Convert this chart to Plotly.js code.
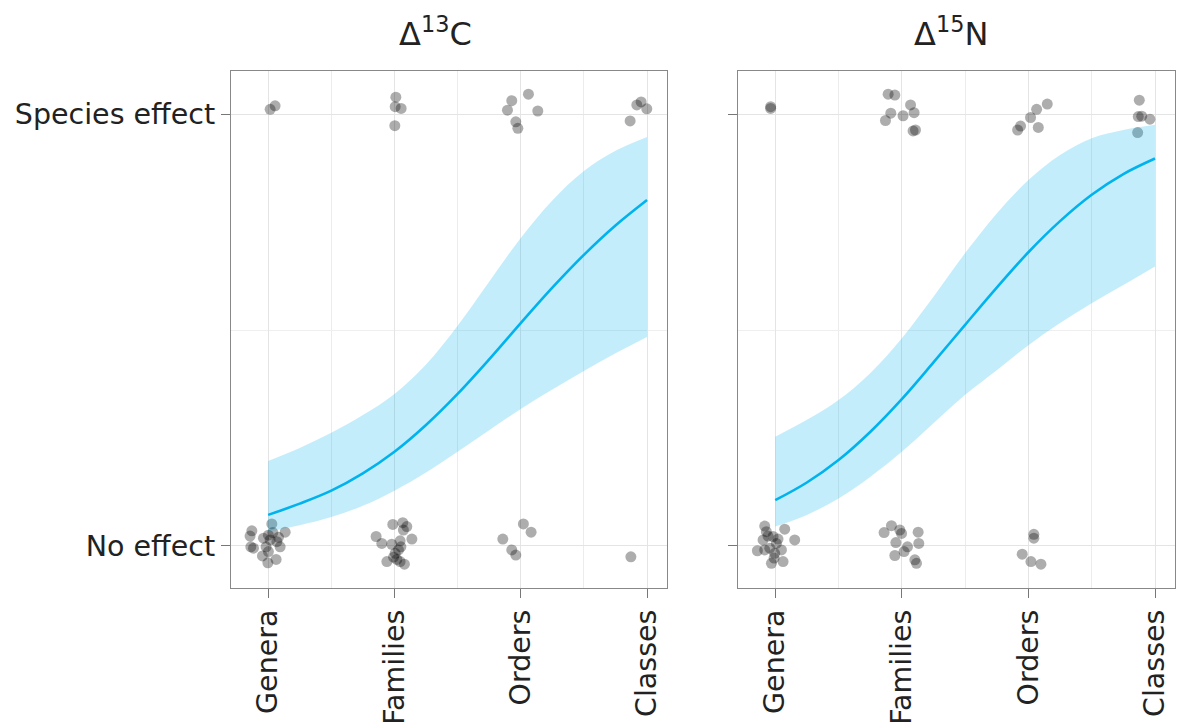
<!DOCTYPE html>
<html>
<head>
<meta charset="utf-8">
<script src="https://cdn.plot.ly/plotly-3.0.1.min.js"></script>
<style>html,body{margin:0;padding:0;background:#fff;}#chart{width:1180px;height:725px;}</style>
</head>
<body>
<div id="chart"></div>
<script>
// Categories / ticks
const categories = ["Genera", "Families", "Orders", "Classes"];
const catPositions = [1, 2, 3, 4];
const yTickVals = [0, 1];
const yTickText = ["No effect", "Species effect"];
const panelTitles = ["Δ<sup>13</sup>C", "Δ<sup>15</sup>N"];

// Fitted curve grid
const curveX = [1, 1.25, 1.5, 1.75, 2, 2.25, 2.5, 2.75, 3, 3.25, 3.5, 3.75, 4];

// Δ13C fit
const c13Fit   = [0.072, 0.098, 0.128, 0.168, 0.218, 0.280, 0.352, 0.432, 0.516, 0.598, 0.674, 0.742, 0.801];
const c13Upper = [0.197, 0.227, 0.262, 0.303, 0.352, 0.420, 0.510, 0.612, 0.713, 0.800, 0.868, 0.915, 0.947];
const c13Lower = [0.033, 0.048, 0.067, 0.093, 0.128, 0.170, 0.218, 0.268, 0.317, 0.362, 0.405, 0.446, 0.484];

// Δ15N fit
const n15Fit   = [0.106, 0.147, 0.199, 0.264, 0.340, 0.425, 0.512, 0.598, 0.680, 0.752, 0.813, 0.861, 0.897];
const n15Upper = [0.253, 0.292, 0.338, 0.400, 0.481, 0.577, 0.678, 0.770, 0.847, 0.905, 0.944, 0.963, 0.975];
const n15Lower = [0.045, 0.072, 0.110, 0.160, 0.218, 0.284, 0.350, 0.407, 0.465, 0.516, 0.562, 0.604, 0.647];

// Δ13C jittered observations
const c13PointsX = [
  0.871, 0.857, 0.863, 0.884, 0.955, 0.998, 1.063, 1.002, 1.029, 1.037, 1.082, 1.095, 1.135, 0.984, 1.002, 1.016, 1.069, 0.963,
  1.987, 2.066, 2.098, 2.071, 2.138, 2.045, 2.051, 1.979, 1.900, 1.855, 2.032, 1.940, 1.993, 2.019, 2.079, 2.006, 2.045,
  2.858, 2.929, 2.961, 3.021, 3.082,
  3.872,
  1.016, 1.055,
  2.011, 2.006, 2.053, 2.003,
  2.929, 3.061, 2.895, 3.135, 2.961, 2.977,
  3.953, 3.919, 3.998, 3.866
];
const c13PointsY = [
  0.035, 0.023, -0.002, -0.005, -0.023, -0.039, -0.031, 0.025, 0.051, 0.031, 0.020, -0.002, 0.032, -0.002, -0.013, 0.014, 0.010, 0.018,
  0.050, 0.054, 0.045, 0.037, 0.016, 0.012, -0.002, 0.004, 0.006, 0.022, -0.009, -0.036, -0.026, -0.031, -0.042, -0.017, -0.036,
  0.016, -0.009, -0.021, 0.051, 0.032,
  -0.025,
  1.011, 1.019,
  1.039, 1.017, 1.013, 0.973,
  1.031, 1.046, 1.009, 1.007, 0.982, 0.967,
  1.028, 1.021, 1.012, 0.984
];

// Δ15N jittered observations
const n15PointsX = [
  0.917, 0.930, 0.943, 0.904, 0.859, 0.917, 0.983, 1.009, 1.049, 0.991, 0.970, 1.062, 1.075, 1.154, 0.957, 0.996, 1.022,
  1.918, 1.860, 1.984, 1.998, 2.129, 1.953, 2.134, 2.045, 2.018, 1.945, 2.103, 2.116,
  3.043, 3.043, 2.951, 3.020, 3.099,
  0.964, 0.964,
  1.892, 1.945, 2.069, 1.913, 2.010, 2.097, 1.871, 2.089, 2.108,
  3.149, 3.065, 3.017, 2.938, 2.915, 3.078,
  3.876, 3.868, 3.895, 3.960, 3.863
];
const n15PointsY = [
  0.046, 0.033, 0.023, 0.014, -0.011, -0.009, 0.022, 0.006, -0.009, -0.028, -0.040, -0.036, 0.039, 0.014, -0.005, -0.017, 0.016,
  0.047, 0.031, 0.037, 0.029, 0.032, 0.008, 0.006, -0.002, -0.013, -0.022, -0.032, -0.040,
  0.027, 0.018, -0.019, -0.036, -0.042,
  1.017, 1.013,
  1.046, 1.044, 1.021, 1.002, 0.996, 1.003, 0.985, 0.961, 0.963,
  1.023, 1.011, 0.992, 0.972, 0.963, 0.969,
  1.032, 0.994, 0.995, 0.988, 0.957
];

const lineColor = "rgb(0,178,238)";
const ribbonColor = "rgba(0,178,238,0.23)";
const pointColor = "rgba(0,0,0,0.32)";

function panelTraces(px, py, fit, up, lo, xa, ya) {
  return [
    {x: px, y: py, xaxis: xa, yaxis: ya, type: "scatter", mode: "markers",
     marker: {color: pointColor, size: 11, line: {width: 0}}, hoverinfo: "skip", showlegend: false},
    {x: curveX, y: lo, xaxis: xa, yaxis: ya, type: "scatter", mode: "lines",
     line: {width: 0, shape: "spline", smoothing: 1, color: ribbonColor}, hoverinfo: "skip", showlegend: false},
    {x: curveX, y: up, xaxis: xa, yaxis: ya, type: "scatter", mode: "lines", fill: "tonexty",
     fillcolor: ribbonColor, line: {width: 0, shape: "spline", smoothing: 1, color: ribbonColor}, hoverinfo: "skip", showlegend: false},
    {x: curveX, y: fit, xaxis: xa, yaxis: ya, type: "scatter", mode: "lines",
     line: {width: 2.6, shape: "spline", smoothing: 1, color: lineColor}, hoverinfo: "skip", showlegend: false}
  ];
}

const data = [].concat(
  panelTraces(c13PointsX, c13PointsY, c13Fit, c13Upper, c13Lower, "x", "y"),
  panelTraces(n15PointsX, n15PointsY, n15Fit, n15Upper, n15Lower, "x2", "y2")
);

const fontFam = "DejaVu Sans, sans-serif";
function xAxis(domain) {
  return {
    domain: domain, range: [0.706, 4.158], tickmode: "array", tickvals: catPositions, ticktext: categories,
    tickangle: -90, ticks: "outside", ticklen: 9, tickwidth: 1, tickcolor: "#777",
    showline: true, mirror: true, linecolor: "#888", linewidth: 1.2,
    showgrid: true, gridcolor: "#e4e4e4", gridwidth: 1, zeroline: false,
    minor: {tickvals: [1.5, 2.5, 3.5], showgrid: true, gridcolor: "#ececec", gridwidth: 1, ticks: ""},
    tickfont: {family: fontFam, size: 28.5, color: "#222"}, fixedrange: true
  };
}
function yAxis(anchor, labels) {
  return {
    domain: [0.189, 0.902], range: [-0.0972, 1.0995], anchor: anchor, tickmode: "array",
    tickvals: yTickVals, ticktext: yTickText, showticklabels: labels,
    ticks: "outside", ticklen: 9, tickwidth: 1, tickcolor: "#777",
    showline: true, mirror: true, linecolor: "#888", linewidth: 1.2,
    showgrid: true, gridcolor: "#e4e4e4", gridwidth: 1, zeroline: false,
    minor: {tickvals: [0.5], showgrid: true, gridcolor: "#efefef", gridwidth: 1, ticks: ""},
    tickfont: {family: fontFam, size: 28.5, color: "#222"}, fixedrange: true
  };
}

const layout = {
  width: 1180, height: 725,
  margin: {l: 0, r: 0, t: 0, b: 0},
  paper_bgcolor: "#fff", plot_bgcolor: "#fff",
  showlegend: false,
  xaxis: xAxis([231 / 1180, 667 / 1180]),
  yaxis: yAxis("x", true),
  xaxis2: Object.assign(xAxis([738 / 1180, 1175 / 1180]), {anchor: "y2"}),
  yaxis2: yAxis("x2", false),
  annotations: [
    {text: panelTitles[0], xref: "paper", yref: "paper", x: 435.5 / 1180, y: 1 - 32 / 725,
     xanchor: "center", yanchor: "middle", showarrow: false, font: {family: fontFam, size: 32, color: "#222"}},
    {text: panelTitles[1], xref: "paper", yref: "paper", x: 951 / 1180, y: 1 - 32 / 725,
     xanchor: "center", yanchor: "middle", showarrow: false, font: {family: fontFam, size: 32, color: "#222"}}
  ]
};

Plotly.newPlot("chart", data, layout, {displayModeBar: false, staticPlot: true});
</script>
</body>
</html>
